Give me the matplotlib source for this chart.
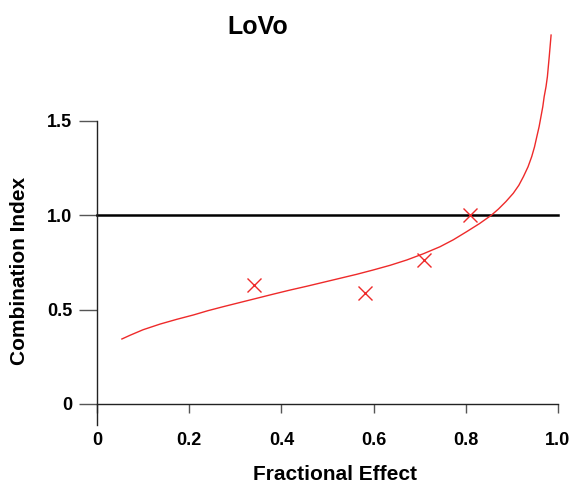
import matplotlib
matplotlib.use("Agg")
import matplotlib.pyplot as plt

# Data
curve_fa = [0.054, 0.072, 0.100, 0.137, 0.173, 0.209, 0.241, 0.274, 0.310, 0.346, 0.382,
            0.419, 0.455, 0.491, 0.527, 0.563, 0.599, 0.636, 0.672, 0.708, 0.744, 0.773,
            0.802, 0.830, 0.856, 0.871, 0.887, 0.903, 0.915, 0.925, 0.935, 0.943, 0.949,
            0.954, 0.959, 0.963, 0.967, 0.970, 0.974, 0.977, 0.979, 0.981, 0.983, 0.985]
curve_ci = [0.344, 0.364, 0.393, 0.423, 0.448, 0.471, 0.494, 0.515, 0.537, 0.559, 0.581,
            0.603, 0.623, 0.644, 0.665, 0.686, 0.709, 0.734, 0.762, 0.795, 0.832, 0.869,
            0.912, 0.955, 1.000, 1.032, 1.071, 1.115, 1.157, 1.203, 1.255, 1.309, 1.360,
            1.414, 1.467, 1.520, 1.573, 1.626, 1.679, 1.732, 1.785, 1.838, 1.895, 1.952]
point_fa = [0.341, 0.581, 0.709, 0.809]
point_ci = [0.630, 0.586, 0.762, 1.000]
ref_line = 1.0
x_ticks = [0, 0.2, 0.4, 0.6, 0.8, 1.0]
x_labels = ["0", "0.2", "0.4", "0.6", "0.8", "1.0"]
y_ticks = [0, 0.5, 1.0, 1.5]
y_labels = ["0", "0.5", "1.0", "1.5"]

plt.rcParams['font.family'] = ['Liberation Sans', 'DejaVu Sans']
plt.rcParams['font.weight'] = 'bold'

W, H = 572, 487
fig = plt.figure(figsize=(W / 100, H / 100), dpi=100)
ymin, ymax = -0.12, 1.96
left_px, right_px = 97, 558
y0_px, yscale = 404, 189
bottom_px = y0_px - ymin * yscale
top_px = y0_px - ymax * yscale
ax = fig.add_axes([left_px / W, 1 - bottom_px / H, (right_px - left_px) / W,
                   (bottom_px - top_px) / H])
ax.set_xlim(0, 1.0)
ax.set_ylim(ymin, ymax)

ax.plot([0, 1.0], [ref_line, ref_line], color='black', lw=1.8, clip_on=False, zorder=2)
ax.plot(curve_fa, curve_ci, color='#ee2a2a', lw=1.0, clip_on=False, zorder=3)
ax.plot(point_fa, point_ci, linestyle='none', marker='x', markersize=9.5,
        markeredgewidth=1.0, color='#ee2a2a', clip_on=False, zorder=4)

for s in ['top', 'right']:
    ax.spines[s].set_visible(False)
ax.spines['bottom'].set_position(('data', 0))
ax.spines['left'].set_position(('data', 0))
ax.spines['left'].set_bounds(-0.111, 1.5)
ax.spines['bottom'].set_bounds(0, 1.0)
for s in ['left', 'bottom']:
    ax.spines[s].set_color('#222222')
    ax.spines[s].set_linewidth(1.0)

ax.set_xticks(x_ticks)
ax.set_xticklabels(x_labels)
ax.set_yticks(y_ticks)
ax.set_yticklabels(y_labels)
ax.tick_params(axis='y', length=13, width=1.0, color='#555555', pad=5, labelsize=13)
ax.tick_params(axis='x', length=6.5, width=1.0, color='#555555', pad=14, labelsize=13)
for lab in ax.get_xticklabels() + ax.get_yticklabels():
    lab.set_fontweight('bold')

fig.text(258 / W, 1 - 27 / H, "LoVo", ha='center', va='center', fontsize=18,
         fontweight='bold')
fig.text(335 / W, 1 - 475 / H, "Fractional Effect", ha='center', va='center',
         fontsize=15, fontweight='bold')
fig.text(20 / W, 1 - 271 / H, "Combination Index", ha='center', va='center',
         fontsize=15, fontweight='bold', rotation=90)

fig.savefig("out.png", dpi=100)
